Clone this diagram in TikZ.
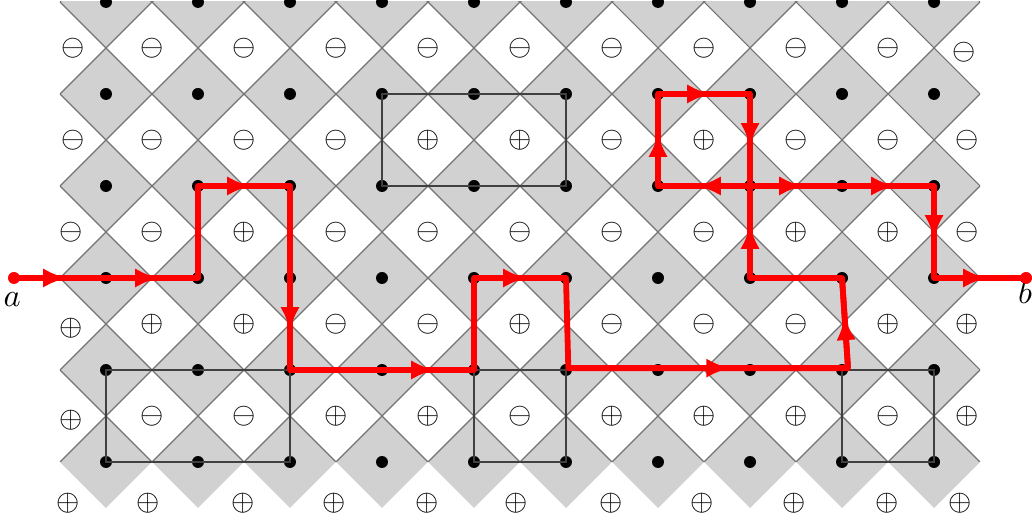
\documentclass[tikz,border=0pt]{standalone}
\usepackage{amsmath}
\usepackage{tikz}
\usetikzlibrary{arrows.meta, decorations.markings, calc}
\tikzset{
    cell/.style={fill=black!18},
    edge/.style={draw=black!55, line width=0.35pt},
    dot/.style={circle, fill=black, inner sep=0pt, minimum size=3.7pt},
    endpoint/.style={circle, fill=red, inner sep=0pt, minimum size=3.6pt},
    sign/.style={inner sep=0pt, font=\small},
    box/.style={draw=black!75, line width=0.6pt},
    redpath/.style={draw=red, line width=1.8pt, line join=round},
    midarrow/.style={
        redpath, postaction={decorate},
        decoration={markings, mark=at position 0.58 with {\arrow{Latex[length=7.5pt,width=6pt,color=red]}}}
    }
}

\begin{document}
\begin{tikzpicture}[x=0.5cm, y=0.5cm]
        \useasboundingbox (-2.304,-1.304) rectangle (20.13,10.043);
        % gray cells
        \begin{scope}
            \clip (-1,-1.1) rectangle (19,10);
            \foreach \i in {0,...,9}
                \foreach \j in {0,...,5}
                    \fill[cell] (2*\i-1,2*\j) -- ++(1,1) -- ++(1,-1) -- ++(-1,-1) -- cycle;
        \end{scope}
        % cell borders
        \begin{scope}
            \clip (-1,0) rectangle (19,10);
            \foreach \i in {0,...,9}
                \foreach \j in {0,...,5}
                    \draw[edge] (2*\i-1,2*\j) -- ++(1,1) -- ++(1,-1) -- ++(-1,-1) -- cycle;
        \end{scope}
        % signs
        \foreach \row/\y in {{m,m,m,m,m,m,m,m,m}/9, {m,m,m,p,p,m,p,m,m}/7, {m,p,m,m,m,m,m,p,p}/5,
                             {p,p,m,m,p,m,m,m,p}/3, {m,m,p,p,m,p,p,p,m}/1}
            \foreach \s [count=\i from 0] in \row
                \node[sign] (s-\i-\y) at (2*\i+1,\y) {\if\s p$\oplus$\else$\ominus$\fi};
        \node[sign] (s-l-9) at (-0.72,9) {$\ominus$};
        \node[sign] (s-l-7) at (-0.72,7) {$\ominus$};
        \node[sign] (s-l-5) at (-0.76,5) {$\ominus$};
        \node[sign] (s-l-3) at (-0.76,2.9) {$\oplus$};
        \node[sign] (s-l-1) at (-0.76,0.9) {$\oplus$};
        \node[sign] (s-r-9) at (18.65,8.9) {$\ominus$};
        \node[sign] (s-r-7) at (18.72,7) {$\ominus$};
        \node[sign] (s-r-5) at (18.72,5) {$\ominus$};
        \node[sign] (s-r-3) at (18.72,3) {$\oplus$};
        \node[sign] (s-r-1) at (18.72,1) {$\oplus$};
        \foreach \x [count=\k] in {-0.83,0.91,2.98,4.96,6.98,8.91,10.98,12.96,14.96,16.98,18.57}
            \node[sign] (s-b-\k) at (\x,-0.9) {$\oplus$};
        % dots
        \foreach \i in {0,...,9}
            \foreach \j in {0,...,5}
                \node[dot] (d-\i-\j) at (2*\i,2*\j) {};
        % boxes
        \draw[box] (d-3-4.center) rectangle (d-5-3.center);
        \draw[box] (d-0-1.center) rectangle (d-2-0.center);
        \draw[box] (d-4-1.center) rectangle (d-5-0.center);
        \draw[box] (d-8-1.center) rectangle (d-9-0.center);
        % path from a to b
        \node[endpoint] (a) at (-2,4) {};
        \node[endpoint] (b) at (20,4) {};
        \node[anchor=base] (a-label) at (-2.04,3.38) {$a$};
        \node[anchor=base] (b-label) at (19.98,3.45) {$b$};
        \coordinate (bend-l) at ($(d-5-1)+(0.05,0.04)$);
        \coordinate (bend-r) at ($(d-8-1)+(0.13,0.04)$);
        \draw[redpath] (a.center) -- (d-0-2.center) -- (d-1-2.center) -- (d-1-3.center) -- (d-2-3.center)
            -- (d-2-2.center) -- (d-2-1.center) -- (d-3-1.center) -- (d-4-1.center) -- (d-4-2.center)
            -- (d-5-2.center) -- (bend-l) -- (bend-r) -- (d-8-2.center) -- (d-7-2.center) -- (d-7-3.center)
            -- (d-6-3.center) -- (d-6-4.center) -- (d-7-4.center) -- (d-7-3.center) -- (d-8-3.center)
            -- (d-9-3.center) -- (d-9-2.center) -- (b.center);
        \foreach \u/\v in {a/d-0-2, d-0-2/d-1-2, d-1-3/d-2-3, d-2-2/d-2-1, d-3-1/d-4-1, d-4-2/d-5-2,
                           bend-l/bend-r, bend-r/d-8-2, d-7-2/d-7-3, d-7-3/d-6-3, d-6-3/d-6-4, d-6-4/d-7-4,
                           d-7-4/d-7-3, d-7-3/d-8-3, d-8-3/d-9-3, d-9-3/d-9-2, d-9-2/b}
            \draw[midarrow] (\u.center) -- (\v.center);
        \node[endpoint] at (a) {};
        \node[endpoint] at (b) {};
\end{tikzpicture}
\end{document}
